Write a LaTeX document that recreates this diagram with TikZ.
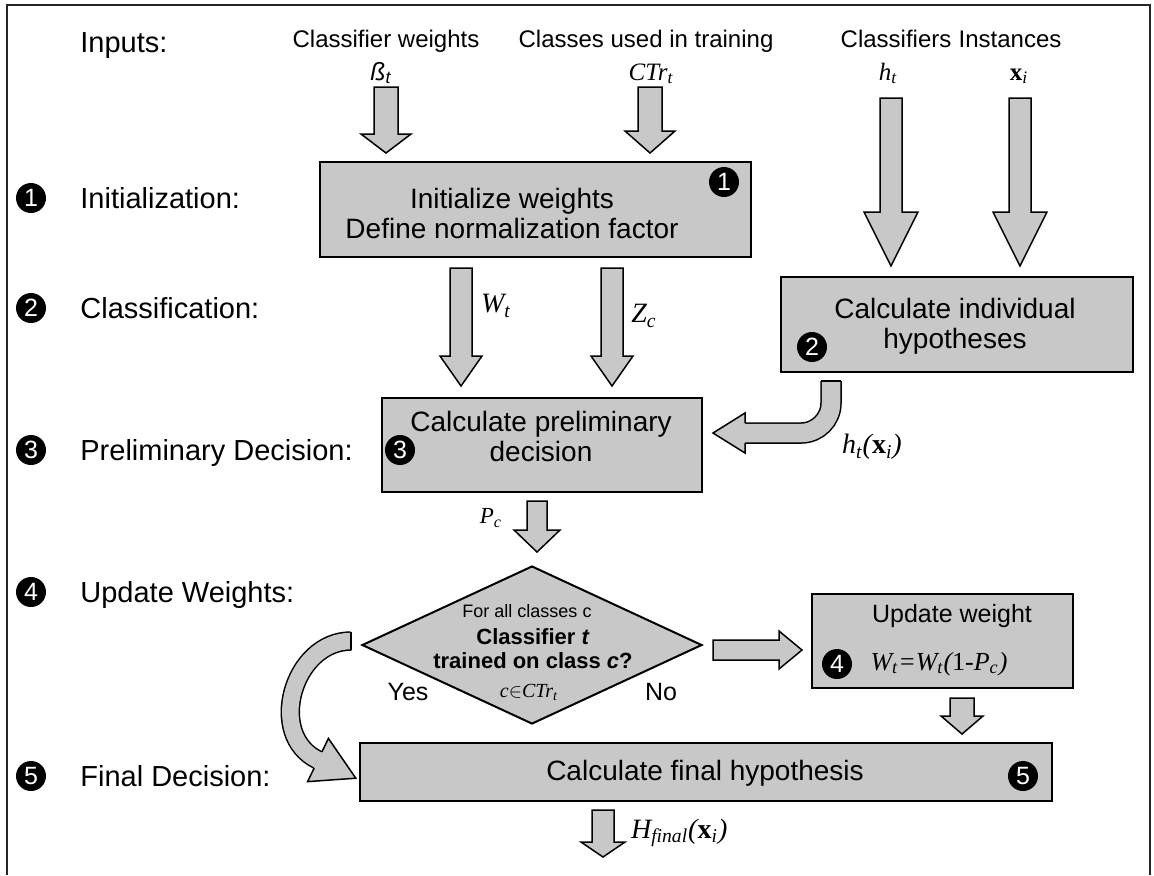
\documentclass[tikz,border=0pt]{standalone}
\usepackage{fontspec}
\setmainfont{Liberation Sans}
\newfontfamily\tms{Liberation Serif}
\usetikzlibrary{calc, shapes.geometric}
\definecolor{boxgray}{RGB}{200,200,200}

\tikzset{
  procbox/.style={draw, line width=1pt, fill=boxgray, inner sep=0pt},
  blockarrow/.style={draw, line width=0.75pt, fill=boxgray, line join=miter},
  stepnum/.style={circle, fill=black, text=white, inner sep=0pt, minimum size=15pt, font=\fontsize{12.5}{12.5}\selectfont},
  steplabel/.style={anchor=base west, inner sep=0pt, font=\fontsize{14.5}{16}\selectfont},
  inlabel/.style={anchor=base, font=\fontsize{12}{14}\selectfont},
  sym/.style={font=\fontsize{14}{14}\selectfont\tms\itshape},
  insym/.style={anchor=base, font=\fontsize{12.5}{12.5}\selectfont\tms\itshape},
  boxtext/.style={align=center, font=\fontsize{14}{15}\selectfont},
  curvedarrow/.style={line width=0.75pt, double=boxgray},
}

% straight block arrows: start, tip, shaft half width, head half width, head length (px)
\newcommand{\downblock}[5]{%
  \filldraw[blockarrow] let \p1=(#1), \p2=(#2) in
    (\x2-#3*0.5pt,\y1) -- (\x2-#3*0.5pt,\y2+#5*0.5pt) -- (\x2-#4*0.5pt,\y2+#5*0.5pt) -- (\x2,\y2)
    -- (\x2+#4*0.5pt,\y2+#5*0.5pt) -- (\x2+#3*0.5pt,\y2+#5*0.5pt) -- (\x2+#3*0.5pt,\y1) -- cycle;}
\newcommand{\rightblock}[5]{%
  \filldraw[blockarrow] let \p1=(#1), \p2=(#2) in
    (\x1,\y1+#3*0.5pt) -- (\x2-#5*0.5pt,\y1+#3*0.5pt) -- (\x2-#5*0.5pt,\y1+#4*0.5pt) -- (\x2,\y1)
    -- (\x2-#5*0.5pt,\y1-#4*0.5pt) -- (\x2-#5*0.5pt,\y1-#3*0.5pt) -- (\x1,\y1-#3*0.5pt) -- cycle;}

\begin{document}
\begin{tikzpicture}[x=0.5pt, y=-0.5pt]
\useasboundingbox (0,0) rectangle (1154,875);
\draw[line width=1pt, black!85] (7,875) -- (7,5) -- (1150,5) -- (1150,875);

% step column
\node[steplabel] (inputs) at (80,52) {Inputs:};
\foreach \n/\yy/\t in {1/198/Initialization:, 2/308/Classification:, 3/450/Preliminary Decision:, 4/592/Update Weights:, 5/776/Final Decision:} {
  \node[stepnum] (s\n) at (31,\yy) {\n};
  \node[steplabel] (l\n) at (80,\yy+10) {\t};
}

% inputs
\node[inlabel] (cw) at (386,47) {Classifier weights};
\node[inlabel] (cu) at (646,47) {Classes used in training};
\node[inlabel] (cl) at (896,47) {Classifiers};
\node[inlabel] (ins) at (1010,47) {Instances};
\node[anchor=base, font=\fontsize{12.5}{12.5}\selectfont\itshape] (beta) at (381,80) {ß\textsubscript{t}};
\node[insym] (ctr) at (651,80) {CTr\textsubscript{t}};
\node[insym] (ht) at (888,80) {h\textsubscript{t}};
\node[insym] (xi) at (1019,80) {{\upshape\bfseries x}\textsubscript{i}};

% process boxes
\node[procbox, minimum width=215.5pt, minimum height=47.5pt] (box1) at (535.5,209.5) {};
\node[boxtext] (t1) at (512,213) {Initialize weights\\Define normalization factor};
\node[stepnum] (c1) at (724,182) {1};

\node[procbox, minimum width=176pt, minimum height=47.5pt] (box2) at (957,324.5) {};
\node[boxtext] (t2) at (955,326) {Calculate individual\\hypotheses};
\node[stepnum] (c2) at (812,347) {2};

\node[procbox, minimum width=160pt, minimum height=47pt] (box3) at (542,445) {};
\node[boxtext] (t3) at (541,436) {Calculate preliminary\\decision};
\node[stepnum] (c3) at (400,450) {3};

\node[diamond, procbox, minimum width=170pt, minimum height=79pt] (dec) at (532,645) {};
\node[font=\fontsize{9}{9}\selectfont] (dq1) at (527,611) {For all classes c};
\node[font=\fontsize{11}{11}\selectfont\bfseries] (dq2) at (533,637) {Classifier \textit{t}};
\node[font=\fontsize{11}{11}\selectfont\bfseries] (dq3) at (533,661) {trained on class \textit{c}?};
\node[font=\fontsize{10}{10}\selectfont\tms\itshape] (dq4) at (529,692) {c$\in$CTr\textsubscript{t}};
\node[font=\fontsize{12.5}{13}\selectfont] (yes) at (408,692) {Yes};
\node[font=\fontsize{12.5}{13}\selectfont] (no) at (661,692) {No};

\node[procbox, minimum width=130.5pt, minimum height=47pt] (box4) at (942.5,641) {};
\node[font=\fontsize{12.5}{13}\selectfont] (t4) at (952,616) {Update weight};
\node[sym, font=\fontsize{13}{13}\selectfont\tms\itshape] (f4) at (939,664) {W\textsubscript{t}=W\textsubscript{t}({\upshape 1-}P\textsubscript{c})};
\node[stepnum] (c4) at (837,664) {4};

\node[procbox, minimum width=346pt, minimum height=29pt] (box5) at (706,772) {};
\node[boxtext] (t5) at (705,773) {Calculate final hypothesis};
\node[stepnum] (c5) at (1023,776) {5};

% arrows
\coordinate (ab) at (386,87);
\coordinate (ac) at (650,87);
\coordinate (ah) at (891,98);
\coordinate (ax) at (1020,98);
\coordinate (aw) at (461,0);
\coordinate (az) at (612,0);
\coordinate (apc) at (537,0);
\coordinate (a45) at (962,0);
\coordinate (ahf) at (603,0);
\coordinate (hfend) at (603,857);

\downblock{ab}{$(ab |- box1.north)+(0,-8)$}{12}{25}{19}
\downblock{ac}{$(ac |- box1.north)+(0,-8)$}{12}{25}{22}
\downblock{ah}{$(ah |- box2.north)+(0,-10)$}{11}{27}{54}
\downblock{ax}{$(ax |- box2.north)+(0,-10)$}{11}{27}{54}
\downblock{$(box1.south -| aw)+(0,10)$}{$(box3.north -| aw)+(0,-11)$}{11}{21}{30}
\downblock{$(box1.south -| az)+(0,10)$}{$(box3.north -| az)+(0,-11)$}{11}{21}{30}
\downblock{$(box3.south -| apc)+(0,8)$}{$(dec.north -| apc)+(0,-13)$}{10}{23}{22}
\rightblock{$(dec.east)+(10,5)$}{$(box4.west)+(-9,0)$}{10}{19}{23}
\downblock{$(box4.south -| a45)+(0,9)$}{$(box5.north -| a45)+(0,-8)$}{12}{21}{18}
\downblock{$(box5.south -| ahf)+(0,8)$}{hfend}{11}{22}{15}

\node[sym] (wt) at (496,306) {W\textsubscript{t}};
\node[sym] (zc) at (644,316) {Z\textsubscript{c}};
\node[sym, font=\fontsize{11.5}{12}\selectfont\tms\itshape] (pc) at (491,518) {P\textsubscript{c}};
\node[sym, anchor=west] (hf) at (624,833) {H\textsubscript{final}({\upshape\bfseries x}\textsubscript{i})};

% curved arrow box2 -> box3
\coordinate (hxx) at (831,0);
\coordinate (hxs) at ($(box2.south -| hxx)+(0,8)$);
\coordinate (hxb) at (745,433);
\coordinate (hxt) at ($(box3.east |- hxb)+(10,0)$);
\draw[curvedarrow, double distance=9.25pt, rounded corners=15pt] (hxs) |- (hxb);
\draw[line width=0.75pt] ($(hxs)+(-10,0)$) -- ($(hxs)+(10,0)$);
\fill[boxgray] ($(hxb)+(0,-20)$) -- (hxt) -- ($(hxb)+(0,20)$) -- cycle;
\draw[line width=0.75pt] ($(hxb)+(0,-10)$) -- ($(hxb)+(0,-20)$) -- (hxt) -- ($(hxb)+(0,20)$) -- ($(hxb)+(0,10)$);
\node[sym] (htx) at (872,447) {h\textsubscript{t}({\upshape\bfseries x}\textsubscript{i})};

% curved arrow "Yes" -> box5
\coordinate (ys) at ($(dec.west)+(-10,-4)$);
\coordinate (yb) at (318,760);
\coordinate (yt) at ($(yb)+(37.8,18.2)$);
\draw[curvedarrow, double distance=8.25pt] (ys) .. controls +(-58,0) and +(-52,-25) .. (yb);
\draw[line width=0.75pt] ($(ys)+(0,-9)$) -- ($(ys)+(0,9)$);
\fill[boxgray] ($(yb)+(-10.4,21.6)$) -- (yt) -- ($(yb)+(10.4,-21.6)$) -- cycle;
\draw[line width=0.75pt] ($(yb)+(-3.9,8.1)$) -- ($(yb)+(-10.4,21.6)$) -- (yt) -- ($(yb)+(10.4,-21.6)$) -- ($(yb)+(3.9,-8.1)$);
\end{tikzpicture}
\end{document}
